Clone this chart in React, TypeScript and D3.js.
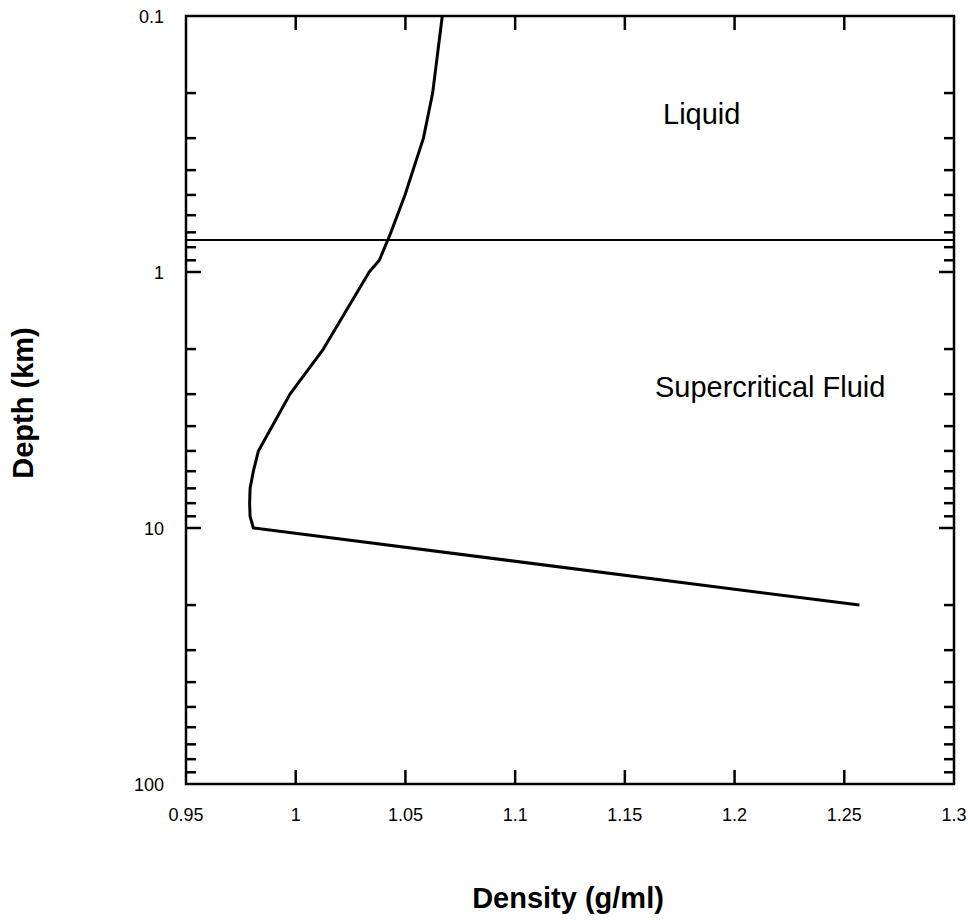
import React from "react";
import * as d3 from "d3";

// depth (km) vs density (g/ml)
const depthKm = [0.1, 0.2, 0.3, 0.5, 0.7, 0.9, 1, 2, 3, 5, 6, 7, 8, 9, 10, 20];
const densityGml = [
  1.0668, 1.0624, 1.0582, 1.0498, 1.0434, 1.0381, 1.0335, 1.0126, 0.9974,
  0.983, 0.9807, 0.9792, 0.979, 0.9792, 0.9807, 1.2569,
];
const xTicks = [0.95, 1, 1.05, 1.1, 1.15, 1.2, 1.25, 1.3];
const xTickLabels = ["0.95", "1", "1.05", "1.1", "1.15", "1.2", "1.25", "1.3"];
const yMajor = [0.1, 1, 10, 100];
const yMajorLabels = ["0.1", "1", "10", "100"];
const phaseBoundaryKm = 0.75;
const regionLabels = ["Liquid", "Supercritical Fluid"];

const App = () => {
  const ref = React.useRef<SVGSVGElement>(null);

  React.useEffect(() => {
    const svg = d3.select(ref.current);
    svg.selectAll("*").remove();

    const left = 186;
    const right = 954;
    const top = 16;
    const bottom = 784;
    const font = "Arial, 'Liberation Sans', sans-serif";

    const x = d3.scaleLinear().domain([0.95, 1.3]).range([left, right]);
    const y = d3.scaleLog().domain([0.1, 100]).range([top, bottom]);

    const yMinor: number[] = [];
    [0.1, 1, 10].forEach(d => {
      for (let k = 2; k <= 9; k++) yMinor.push(d * k);
    });

    const g = svg.append("g");

    // ticks, pointing inward on all four sides
    const tickStroke = "#000";
    xTicks.slice(1, -1).forEach(v => {
      g.append("line").attr("x1", x(v)).attr("x2", x(v))
        .attr("y1", bottom).attr("y2", bottom - 14)
        .attr("stroke", tickStroke).attr("stroke-width", 2.5);
      g.append("line").attr("x1", x(v)).attr("x2", x(v))
        .attr("y1", top).attr("y2", top + 14)
        .attr("stroke", tickStroke).attr("stroke-width", 2.5);
    });
    yMinor.forEach(v => {
      g.append("line").attr("x1", left).attr("x2", left + 10)
        .attr("y1", y(v)).attr("y2", y(v))
        .attr("stroke", tickStroke).attr("stroke-width", 2.5);
      g.append("line").attr("x1", right).attr("x2", right - 10)
        .attr("y1", y(v)).attr("y2", y(v))
        .attr("stroke", tickStroke).attr("stroke-width", 2.5);
    });
    yMajor.slice(1, -1).forEach(v => {
      g.append("line").attr("x1", left).attr("x2", left + 15)
        .attr("y1", y(v)).attr("y2", y(v))
        .attr("stroke", tickStroke).attr("stroke-width", 2.5);
      g.append("line").attr("x1", right).attr("x2", right - 15)
        .attr("y1", y(v)).attr("y2", y(v))
        .attr("stroke", tickStroke).attr("stroke-width", 2.5);
    });

    // frame
    g.append("rect")
      .attr("x", left).attr("y", top)
      .attr("width", right - left).attr("height", bottom - top)
      .attr("fill", "none").attr("stroke", "#000").attr("stroke-width", 2.5);

    // tick labels
    g.selectAll(".xl").data(xTicks).enter().append("text")
      .attr("x", d => x(d)).attr("y", 821)
      .attr("text-anchor", "middle")
      .style("font-family", font).style("font-size", "18px")
      .text((d, i) => xTickLabels[i]);
    g.selectAll(".yl").data(yMajor).enter().append("text")
      .attr("x", 164).attr("y", d => y(d) + 6.5)
      .attr("text-anchor", "end")
      .style("font-family", font).style("font-size", "18px")
      .text((d, i) => yMajorLabels[i]);

    // liquid / supercritical boundary
    g.append("line")
      .attr("x1", left).attr("x2", right)
      .attr("y1", y(phaseBoundaryKm)).attr("y2", y(phaseBoundaryKm))
      .attr("stroke", "#000").attr("stroke-width", 2);

    const line = d3.line<number>()
      .x((d, i) => x(densityGml[i]))
      .y(d => y(d));
    g.append("path")
      .datum(depthKm)
      .attr("d", line)
      .attr("fill", "none").attr("stroke", "#000")
      .attr("stroke-width", 3).attr("stroke-linejoin", "round");

    g.append("text")
      .attr("x", x(1.1674)).attr("y", y(0.264))
      .style("font-family", font).style("font-size", "29px")
      .text(regionLabels[0]);
    g.append("text")
      .attr("x", x(1.1637)).attr("y", y(3.08))
      .style("font-family", font).style("font-size", "29px")
      .text(regionLabels[1]);

    // axis titles
    g.append("text")
      .attr("x", 568).attr("y", 908)
      .attr("text-anchor", "middle")
      .style("font-family", font).style("font-size", "29px")
      .style("font-weight", "bold")
      .text("Density (g/ml)");
    g.append("text")
      .attr("transform", "translate(33, 403) rotate(-90)")
      .attr("text-anchor", "middle")
      .style("font-family", font).style("font-size", "29px")
      .style("font-weight", "bold")
      .text("Depth (km)");
  }, []);

  return (
    <div>
      <style>{`body { margin: 0; }`}</style>
      <svg width={968} height={920} ref={ref} style={{ display: "block", background: "#fff" }} />
    </div>
  );
};

export default App;
